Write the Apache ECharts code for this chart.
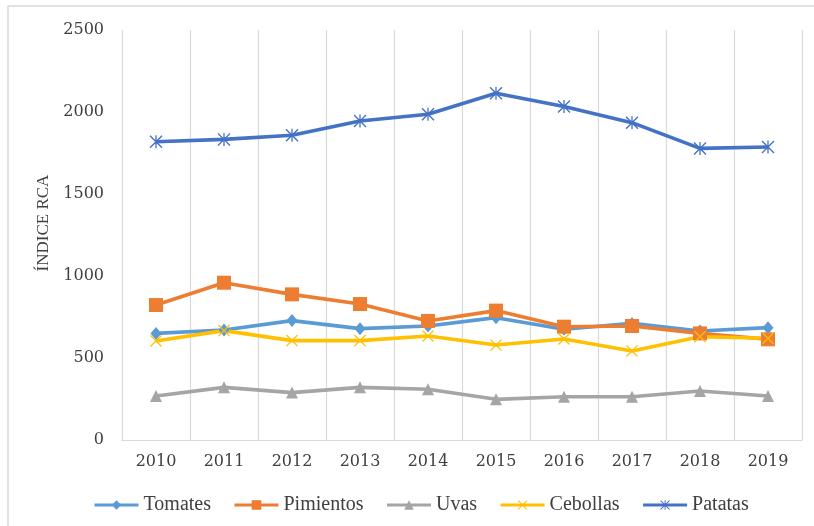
<!DOCTYPE html>
<html>
<head>
<meta charset="utf-8">
<script src="https://cdn.jsdelivr.net/npm/echarts@6/dist/echarts.min.js"></script>
<style>
  html, body { margin: 0; padding: 0; background: #fff; }
  #chart { width: 814px; height: 526px; }
</style>
</head>
<body>
<div id="chart"></div>
<script>
// Years on the category axis
const years = ['2010', '2011', '2012', '2013', '2014', '2015', '2016', '2017', '2018', '2019'];

// Índice RCA per product
const tomates    = [650, 671, 728, 679, 695, 746, 675, 711, 665, 685];
const pimientos  = [823, 959, 888, 829, 726, 789, 691, 695, 650, 614];
const uvas       = [268, 321, 289, 321, 309, 248, 264, 264, 299, 268];
const cebollas   = [604, 667, 606, 606, 634, 579, 616, 543, 630, 620];
const patatas    = [1819, 1833, 1858, 1945, 1986, 2114, 2033, 1935, 1778, 1787];

// Value-axis ticks
const yTicks = [0, 500, 1000, 1500, 2000, 2500];

// Marker shapes drawn as filled outlines
const crossPath = 'path://M0,1.5 L1.5,0 L10,8.5 L18.5,0 L20,1.5 L11.5,10 L20,18.5 L18.5,20 L10,11.5 L1.5,20 L0,18.5 L8.5,10 Z';
const starPath = 'path://M0,1.5 L1.5,0 L10,8.5 L18.5,0 L20,1.5 L11.5,10 L20,18.5 L18.5,20 L10,11.5 L1.5,20 L0,18.5 L8.5,10 Z M9,0 L11,0 L11,20 L9,20 Z';

const seriesDefs = [
  { name: 'Tomates',   data: tomates,   color: '#5B9BD5', symbol: 'diamond',  size: [11, 13] },
  { name: 'Pimientos', data: pimientos, color: '#ED7D31', symbol: 'rect',     size: 14 },
  { name: 'Uvas',      data: uvas,      color: '#A5A5A5', symbol: 'triangle', size: 12 },
  { name: 'Cebollas',  data: cebollas,  color: '#FFC000', symbol: crossPath,  size: 12 },
  { name: 'Patatas',   data: patatas,   color: '#4472C4', symbol: starPath,   size: 13 }
];

const chart = echarts.init(document.getElementById('chart'), null, { renderer: 'canvas' });

chart.setOption({
  backgroundColor: '#ffffff',
  animation: false,
  graphic: [{
    type: 'rect',
    shape: { x: 8, y: 6, width: 820, height: 540 },
    style: { fill: 'none', stroke: '#d9d9d9', lineWidth: 1.5 },
    silent: true,
    z: -10
  }],
  grid: { left: 122, right: 12, top: 30, bottom: 86 },
  legend: {
    left: 88,
    top: 490,
    itemWidth: 44,
    itemHeight: 12,
    itemGap: 22,
    lineStyle: { width: 3 },
    textStyle: { fontFamily: 'Liberation Serif', fontSize: 20, color: '#404040' },
    data: seriesDefs.map(s => s.name)
  },
  xAxis: {
    type: 'category',
    data: years,
    boundaryGap: true,
    axisLine: { show: true, lineStyle: { color: '#d9d9d9', width: 1.2 } },
    axisTick: { show: false },
    splitLine: { show: true, lineStyle: { color: '#d9d9d9', width: 1.2 } },
    axisLabel: {
      margin: 14,
      fontFamily: 'DejaVu Serif',
      fontSize: 16,
      color: '#404040'
    }
  },
  yAxis: {
    type: 'value',
    min: yTicks[0],
    max: yTicks[yTicks.length - 1],
    interval: yTicks[1] - yTicks[0],
    name: 'ÍNDICE RCA',
    nameLocation: 'middle',
    nameRotate: 90,
    nameGap: 68,
    nameTextStyle: { fontFamily: 'Liberation Serif', fontSize: 17, color: '#404040', padding: [0, 0, 0, 24] },
    axisLine: { show: false },
    axisTick: { show: false },
    splitLine: { show: false },
    axisLabel: {
      margin: 18,
      fontFamily: 'DejaVu Serif',
      fontSize: 16,
      color: '#404040',
      formatter: v => String(v)
    }
  },
  series: seriesDefs.map(s => ({
    name: s.name,
    type: 'line',
    data: s.data,
    symbol: s.symbol,
    symbolSize: s.size,
    showAllSymbol: true,
    lineStyle: { color: s.color, width: 3.6 },
    itemStyle: { color: s.color, borderWidth: 0 },
    emphasis: { disabled: true }
  }))
});
</script>
</body>
</html>
